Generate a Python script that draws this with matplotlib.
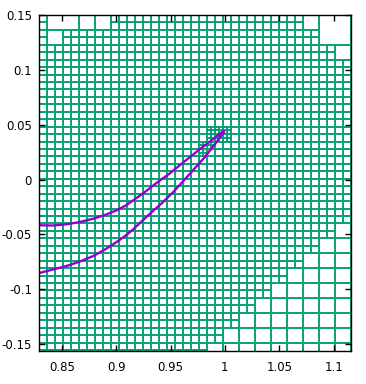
import matplotlib
matplotlib.use('Agg')
import matplotlib.pyplot as plt
from matplotlib.patches import Rectangle
from matplotlib.collections import PatchCollection

# ---- tick data ----
x_ticks = [0.85, 0.9, 0.95, 1.0, 1.05, 1.1]
x_tick_labels = ['0.85', '0.9', '0.95', '1', '1.05', '1.1']
y_ticks = [0.15, 0.1, 0.05, 0.0, -0.05, -0.1, -0.15]
y_tick_labels = ['0.15', '0.1', '0.05', '0', '-0.05', '-0.1', '-0.15']

# ---- curve data ----
upper_x = [0.8290, 0.8419, 0.8545, 0.8667, 0.8790, 0.8897, 0.9005, 0.9081,
           0.9158, 0.9265, 0.9376, 0.9495, 0.9633, 0.9771, 0.9882, 0.9987]
upper_y = [-0.0417, -0.0419, -0.0408, -0.0387, -0.0357, -0.0323, -0.0280, -0.0241,
           -0.0189, -0.0113, -0.0027, 0.0057, 0.0169, 0.0278, 0.0361, 0.0443]
lower_x = [0.8293, 0.8419, 0.8545, 0.8667, 0.8790, 0.8897, 0.9005, 0.9081,
           0.9158, 0.9228, 0.9311, 0.9422, 0.9526, 0.9679, 0.9817, 0.9909, 0.9992]
lower_y = [-0.0852, -0.0820, -0.0788, -0.0747, -0.0697, -0.0638, -0.0569, -0.0515,
           -0.0453, -0.0387, -0.0311, -0.0214, -0.0113, 0.0054, 0.0206, 0.0324, 0.0433]

# ---- mesh data ----
mesh_x0 = 0.8287
mesh_dx = 0.00736
mesh_y0 = 0.15
mesh_dy = 0.006786
mesh_ncols = 40
mesh_nrows = 46
# merged blocks: (col, row, ncols, nrows)
merged_blocks = [(1, 0, 4, 2), (1, 2, 2, 2), (5, 0, 2, 2), (7, 0, 2, 2),
                 (33, 0, 2, 2), (35, 0, 4, 4), (37, 4, 2, 2)]
# staircase of coarse cells in the lower right: row pair start, first coarse column
stair_rows = [28, 30, 32, 34, 36, 38, 40, 42, 44]
stair_cols = [37, 35, 33, 31, 29, 27, 25, 23, 21]
# fine cells split into four near the tip
split_cells = [(21, 15), (22, 15), (23, 15), (21, 16), (22, 16), (23, 16),
               (20, 17), (21, 17), (20, 18)]

fig = plt.figure(figsize=(3.66, 3.84), dpi=100)
ax = fig.add_axes([39 / 366, 1 - 351.3 / 384, (351.2 - 39) / 366, (351.3 - 15) / 384])

blocks = list(merged_blocks)
for r0, c0 in zip(stair_rows, stair_cols):
    for c in range(c0, mesh_ncols, 2):
        blocks.append((c, r0, 2, 2))
covered = set()
for c0, r0, w, h in blocks:
    for c in range(c0, c0 + w):
        for r in range(r0, r0 + h):
            covered.add((c, r))

rects = []
def add_rect(c, r, w, h):
    x = mesh_x0 + c * mesh_dx
    y = mesh_y0 - (r + h) * mesh_dy
    rects.append(Rectangle((x, y), w * mesh_dx, h * mesh_dy))

for c0, r0, w, h in blocks:
    add_rect(c0, r0, w, h)
split_set = set(split_cells)
for c in range(mesh_ncols):
    for r in range(mesh_nrows):
        if (c, r) in covered:
            continue
        if (c, r) in split_set:
            for a in (0, 0.5):
                for b in (0, 0.5):
                    add_rect(c + a, r + b, 0.5, 0.5)
        else:
            add_rect(c, r, 1, 1)

pc = PatchCollection(rects, facecolor='none', edgecolor='#009E73', linewidth=1.1)
ax.add_collection(pc)

curve_x = lower_x + upper_x[::-1]
curve_y = lower_y + upper_y[::-1]
ax.plot(curve_x, curve_y, color='#9400D3', linewidth=1.7, solid_joinstyle='round', zorder=3)

ax.set_xlim(0.829, 1.1162)
ax.set_ylim(-0.1566, 0.15)
ax.set_xticks(x_ticks)
ax.set_xticklabels(x_tick_labels)
ax.set_yticks(y_ticks)
ax.set_yticklabels(y_tick_labels)
ax.tick_params(direction='in', length=4, width=1, top=True, right=True,
               labelsize=8.5, colors='black')
ax.tick_params(axis='x', pad=7)
ax.tick_params(axis='y', pad=5)
for s in ax.spines.values():
    s.set_linewidth(1.0)
    s.set_zorder(4)

fig.savefig('out.png', dpi=100)
